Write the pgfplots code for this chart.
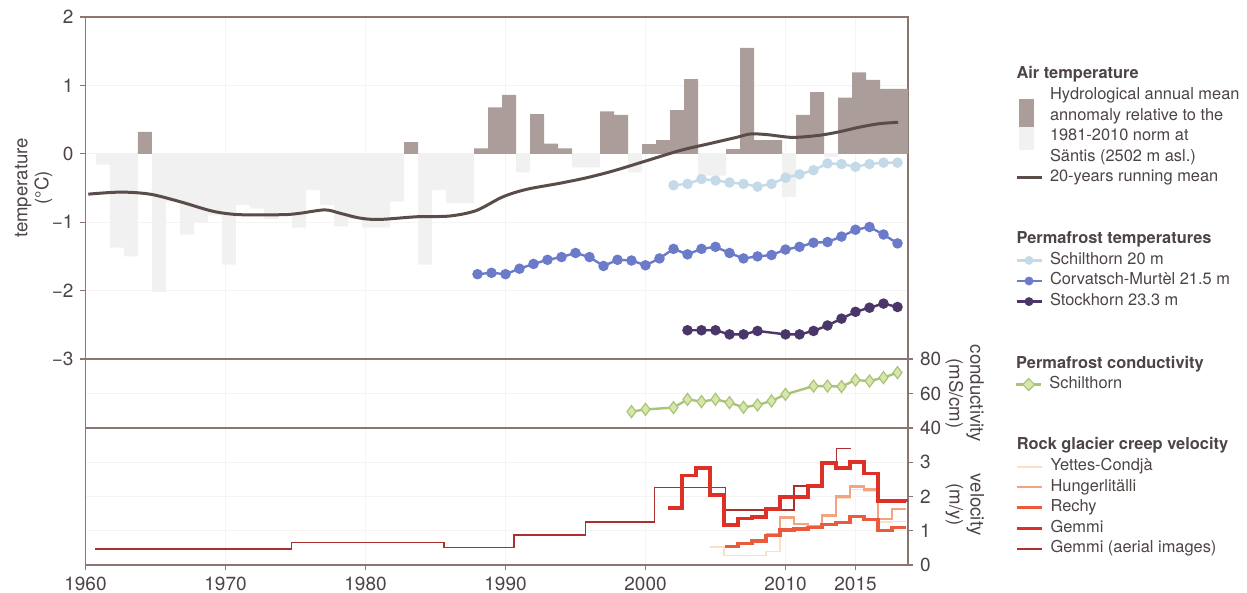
\documentclass[border=0pt]{standalone}
\usepackage{pgfplots}
\pgfplotsset{compat=1.18}
\usepackage{fontspec}
\setmainfont{TeX Gyre Heros}
\definecolor{barpos}{HTML}{AB9E9A}
\definecolor{barneg}{HTML}{F1F1F1}
\definecolor{meanc}{HTML}{5A4C49}
\definecolor{schil}{HTML}{C5DAE8}
\definecolor{corv}{HTML}{6B7BC9}
\definecolor{stock}{HTML}{4A3668}
\definecolor{condfill}{HTML}{D6E6AC}
\definecolor{condline}{HTML}{A9C477}
\definecolor{yettes}{HTML}{FBE0C9}
\definecolor{hunger}{HTML}{F3A380}
\definecolor{rechy}{HTML}{EA5A3C}
\definecolor{gemmi}{HTML}{DD3127}
\definecolor{aerial}{HTML}{AC3030}
\definecolor{axisc}{HTML}{8C7470}
\definecolor{textc}{HTML}{4D4444}
\definecolor{gridc}{HTML}{F5F3F3}
\begin{document}
\begin{tikzpicture}
\useasboundingbox (-42.75pt,-14pt) rectangle (580.75pt,282.5pt);
\pgfplotsset{
  base/.style={
    scale only axis, width=411.25pt, xmin=1960, xmax=2018.75,
    axis line style={axisc, line width=0.6pt},
    tick style={axisc, line width=0.6pt}, major tick length=2.5pt, tick align=outside,
    xtick={1960,1970,1980,1990,2000,2010,2015},
    grid style={gridc, line width=0.4pt}, xmajorgrids, ymajorgrids,
    tick label style={font=\fontsize{9.5}{11}\selectfont, text=textc},
    label style={font=\fontsize{9.3}{10.5}\selectfont, text=textc, align=center},
    /pgf/number format/assume math mode=true,
    /pgf/number format/1000 sep={},
    legend cell align=left,
    legend style={draw=none, fill=none, inner sep=0pt, outer sep=0pt,
      at={(1,1)}, anchor=north west, xshift=53.5pt,
      row sep=2.3pt, column sep=3.5pt,
      font=\fontsize{8.2}{10}\selectfont, text=textc,
      nodes={inner sep=0pt, text height=6pt, text depth=2pt}},
  },
  hdr/.style={legend image code/.code={\node[overlay, anchor=west, inner sep=0pt, text height=6pt, text depth=2pt, font=\fontsize{8.2}{10}\selectfont\bfseries, text=textc] at (0pt,0pt) {#1};}},
  lin/.style 2 args={legend image code/.code={\draw[#1, line width=#2] (0pt,0pt) -- (12.5pt,0pt);}},
  dot/.style={legend image code/.code={\draw[#1, line width=1.2pt] (0pt,0pt) -- (12.5pt,0pt); \fill[#1] (6.25pt,0pt) circle (2pt);}},
}
% ---------------- top panel: temperature ----------------
\begin{axis}[base, at={(0pt,103pt)}, anchor=south west, height=171pt,
  ymin=-3, ymax=2, ytick={-3,-2,-1,0,1,2}, yticklabels={−3,−2,−1,0,1,2},
  ytick pos=left, xticklabels={}, xtick style={draw=none},
  ylabel={temperature\\(°C)},
  ylabel style={at={(axis description cs:-0.063,0.5)}, anchor=center},
  legend style={yshift=-25pt}]
\addplot[ybar, bar width=1, bar shift=0pt, fill=barneg, draw=none, forget plot] coordinates {
(1961.25,-0.16) (1962.25,-1.37) (1963.25,-1.50) (1965.25,-2.02) (1966.25,-0.70)
(1967.25,-1.18) (1968.25,-1.00) (1969.25,-0.90) (1970.25,-1.62) (1971.25,-0.75)
(1972.25,-0.80) (1973.25,-0.95) (1974.25,-0.85) (1975.25,-1.08) (1976.25,-0.53)
(1977.25,-0.75) (1978.25,-1.06) (1979.25,-0.95) (1980.25,-1.08) (1981.25,-1.08)
(1982.25,-0.70) (1984.25,-1.62) (1985.25,-0.53) (1986.25,-0.72) (1987.25,-0.72)
(1991.25,-0.27) (1995.25,-0.20) (1996.25,-0.20) (1999.25,-0.27) (2004.25,-0.32)
(2005.25,-0.32) (2010.25,-0.63) (2013.25,-0.05)};
\addplot[ybar, bar width=1, bar shift=0pt, fill=barpos, draw=none, forget plot] coordinates {
(1964.25,0.32) (1983.25,0.17) (1988.25,0.08) (1989.25,0.68) (1990.25,0.86)
(1992.25,0.58) (1993.25,0.15) (1994.25,0.08) (1997.25,0.62) (1998.25,0.57)
(2000.25,0.14) (2001.25,0.20) (2002.25,0.64) (2003.25,1.09) (2006.25,0.07)
(2007.25,1.55) (2008.25,0.20) (2009.25,0.20) (2011.25,0.57) (2012.25,0.90)
(2014.25,0.82) (2015.25,1.19) (2016.25,1.08) (2017.25,0.95) (2018.25,0.95)};
\addplot[meanc, line width=1.5pt, smooth, forget plot] coordinates {
(1960.2,-0.59) (1962.5,-0.56) (1964.6,-0.59) (1966.75,-0.70) (1969.1,-0.84)
(1971,-0.89) (1974.1,-0.89) (1975.3,-0.87) (1977.1,-0.82) (1978.2,-0.87)
(1979.6,-0.94) (1981,-0.96) (1983.7,-0.92) (1986,-0.91) (1987.9,-0.83)
(1989.8,-0.63) (1991.5,-0.52) (1993.9,-0.43) (1995.8,-0.35) (1997.7,-0.25)
(2000.1,-0.10) (2002.5,0.05) (2004.6,0.15) (2006.5,0.24) (2007.5,0.29)
(2008.7,0.28) (2010.5,0.24) (2012.4,0.27) (2013.8,0.32) (2015.3,0.39)
(2016.7,0.44) (2018.05,0.46)};
\addplot[schil, line width=1.2pt, mark=*, mark size=2pt, mark options={fill=schil, draw=schil}, forget plot] coordinates {
(2002,-0.46) (2003,-0.44) (2004,-0.37) (2005,-0.39) (2006,-0.42) (2007,-0.44)
(2008,-0.48) (2009,-0.44) (2010,-0.35) (2011,-0.30) (2012,-0.24) (2013,-0.14)
(2014,-0.15) (2015,-0.19) (2016,-0.15) (2017,-0.13) (2018,-0.13)};
\addplot[corv, line width=1.2pt, mark=*, mark size=2pt, mark options={fill=corv, draw=corv}, forget plot] coordinates {
(1988,-1.76) (1989,-1.74) (1990,-1.76) (1991,-1.68) (1992,-1.61) (1993,-1.55)
(1994,-1.51) (1995,-1.45) (1996,-1.51) (1997,-1.64) (1998,-1.55) (1999,-1.56)
(2000,-1.63) (2001,-1.53) (2002,-1.39) (2003,-1.47) (2004,-1.39) (2005,-1.36)
(2006,-1.45) (2007,-1.53) (2008,-1.50) (2009,-1.48) (2010,-1.40) (2011,-1.36)
(2012,-1.30) (2013,-1.29) (2014,-1.21) (2015,-1.11) (2016,-1.07) (2017,-1.18)
(2018,-1.31)};
\addplot[stock, line width=1.2pt, mark=*, mark size=2pt, mark options={fill=stock, draw=stock}, forget plot] coordinates {
(2003,-2.58) (2004,-2.58) (2005,-2.58) (2006,-2.64) (2007,-2.64) (2008,-2.59)
(2010,-2.64) (2011,-2.64) (2012,-2.59) (2013,-2.51) (2014,-2.41) (2015,-2.31)
(2016,-2.25) (2017,-2.19) (2018,-2.24)};
\addlegendimage{hdr={Air temperature}}\addlegendentry{}
\addlegendimage{legend image code/.code={\fill[barpos, overlay] (1.5pt,-1.7pt) rectangle (8.5pt,-15.7pt); \fill[barneg, overlay] (1.5pt,-15.7pt) rectangle (8.5pt,-27pt);}}
\addlegendentry{Hydrological annual mean}
\addlegendimage{empty legend}\addlegendentry{annomaly relative to the}
\addlegendimage{empty legend}\addlegendentry{1981-2010 norm at}
\addlegendimage{empty legend}\addlegendentry{Säntis (2502 m asl.)}
\addlegendimage{lin={meanc}{1.5pt}}\addlegendentry{20-years running mean}
\addlegendimage{empty legend}\addlegendentry{}
\addlegendimage{empty legend}\addlegendentry{}
\addlegendimage{hdr={Permafrost temperatures}}\addlegendentry{}
\addlegendimage{dot=schil}\addlegendentry{Schilthorn 20 m}
\addlegendimage{dot=corv}\addlegendentry{Corvatsch-Murtèl 21.5 m}
\addlegendimage{dot=stock}\addlegendentry{Stockhorn 23.3 m}
\end{axis}
% ---------------- middle panel: conductivity ----------------
\begin{axis}[base, at={(0pt,68.5pt)}, anchor=south west, height=34.5pt,
  ymin=40, ymax=80, ytick={40,60,80}, ytick pos=right, yticklabel pos=right,
  xticklabels={}, xtick style={draw=none},
  ylabel={conductivity\\(mS/cm)},
  ylabel style={at={(axis description cs:1.069,0.5)}, anchor=center, rotate=180},
  legend style={yshift=1.5pt}]
\addplot[condline, line width=1.2pt, mark=diamond*, mark size=3pt, mark options={fill=condfill, draw=condline, line width=0.6pt}, forget plot] coordinates {
(1999,49.5) (2000,50.8) (2002,51.8) (2003,56.6) (2004,55.3) (2005,56.6) (2006,54.7)
(2007,52.0) (2008,53.3) (2009,55.7) (2010,59.5) (2012,64.3) (2013,64.3) (2014,64.0)
(2015,67.8) (2016,67.2) (2017,69.2) (2018,72.1)};
\addlegendimage{hdr={Permafrost conductivity}}\addlegendentry{}
\addlegendimage{legend image code/.code={\draw[condline, line width=1.2pt] (0pt,0pt) -- (12.5pt,0pt); \draw[condline, fill=condfill, line width=0.6pt] (6.25pt,3pt) -- (9.25pt,0pt) -- (6.25pt,-3pt) -- (3.25pt,0pt) -- cycle;}}
\addlegendentry{Schilthorn}
\end{axis}
% ---------------- bottom panel: velocity ----------------
\begin{axis}[base, at={(0pt,0pt)}, anchor=south west, height=68.5pt,
  ymin=0, ymax=4, ytick={0,1,2,3}, ytick pos=right, yticklabel pos=right,
  xtick pos=left,
  ylabel={velocity\\(m/y)},
  ylabel style={at={(axis description cs:1.069,0.44)}, anchor=center, rotate=180},
  legend style={yshift=-5pt}]
\addplot[aerial, line width=0.8pt, const plot mark left, forget plot] coordinates {
(1960.7,0.46) (1974.7,0.66) (1985.6,0.51) (1990.6,0.88) (1995.7,1.26) (2000.65,2.26)
(2005.7,1.61) (2010.6,2.30) (2012.65,2.99) (2013.65,3.40) (2014.65,3.40)};
\addplot[yettes, line width=0.8pt, const plot mark left, forget plot] coordinates {
(2004.6,0.53) (2005.6,0.28) (2006.6,0.28) (2007.6,0.28) (2008.6,0.39) (2009.6,1.39)
(2010.6,1.20) (2011.6,1.14) (2012.6,1.44) (2013.6,1.95) (2014.6,2.20) (2015.6,2.15)
(2016.6,1.25) (2017.6,1.27) (2018.6,1.27)};
\addplot[hunger, line width=1.2pt, const plot mark left, forget plot] coordinates {
(2008.6,0.90) (2009.6,1.39) (2010.6,1.20) (2011.6,1.14) (2012.6,1.44) (2013.6,2.00)
(2014.6,2.29) (2015.6,2.21) (2016.6,1.34) (2017.6,1.63) (2018.6,1.63)};
\addplot[rechy, line width=1.6pt, const plot mark left, forget plot] coordinates {
(2005.7,0.53) (2006.6,0.63) (2007.6,0.70) (2008.6,0.86) (2009.6,1.02) (2010.6,1.05)
(2011.6,1.09) (2012.6,1.18) (2013.6,1.25) (2014.6,1.42) (2015.6,1.32) (2016.6,1.00)
(2017.6,1.09) (2018.6,1.09)};
\addplot[gemmi, line width=1.8pt, const plot mark left, forget plot] coordinates {
(2001.6,1.67) (2002.6,2.61) (2003.6,2.83) (2004.6,2.04) (2005.6,1.17) (2006.6,1.36)
(2007.6,1.40) (2008.6,1.63) (2009.6,1.99) (2011.6,2.30) (2012.6,2.97) (2013.6,2.84)
(2014.6,3.00) (2015.6,2.67) (2016.6,1.87) (2018.6,1.85)};
\addlegendimage{hdr={Rock glacier creep velocity}}\addlegendentry{}
\addlegendimage{lin={yettes}{1pt}}\addlegendentry{Yettes-Condjà}
\addlegendimage{lin={hunger}{1.2pt}}\addlegendentry{Hungerlitälli}
\addlegendimage{lin={rechy}{1.6pt}}\addlegendentry{Rechy}
\addlegendimage{lin={gemmi}{1.8pt}}\addlegendentry{Gemmi}
\addlegendimage{lin={aerial}{0.9pt}}\addlegendentry{Gemmi (aerial images)}
\end{axis}
\end{tikzpicture}
\end{document}
